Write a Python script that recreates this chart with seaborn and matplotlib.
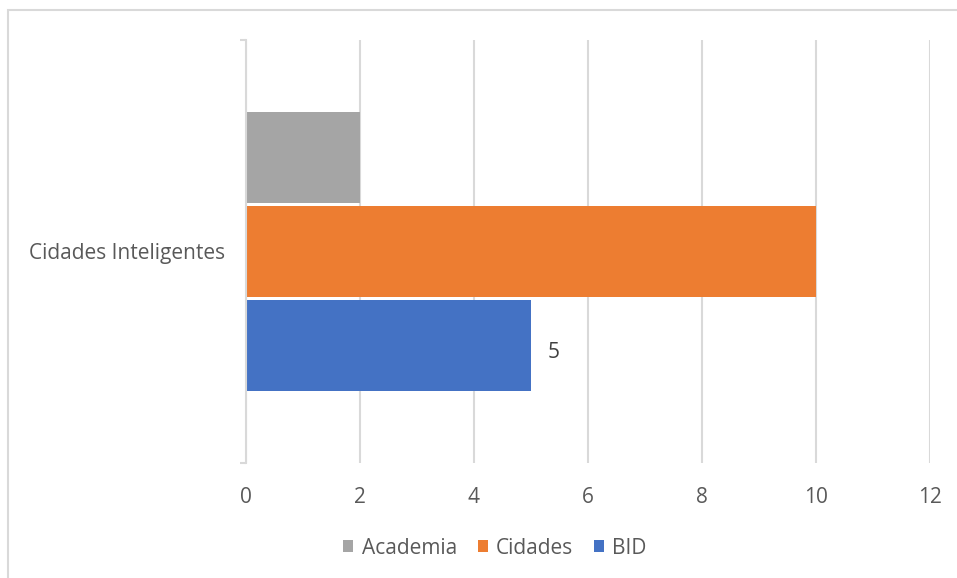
import seaborn as sns
import matplotlib
matplotlib.use("Agg")
import matplotlib.pyplot as plt
import pandas as pd
from matplotlib.patches import Patch, Rectangle

categories = ["Cidades Inteligentes"]
series = ["Academia", "Cidades", "BID"]
values = [2, 10, 5]
colors = ["#A5A5A5", "#ED7D31", "#4472C4"]
xticks = [0, 2, 4, 6, 8, 10, 12]

df = pd.DataFrame({"Categoria": categories * len(series), "Série": series, "Valor": values})

sns.set_theme(style="white")
plt.rcParams['font.family'] = ['Open Sans', 'DejaVu Sans']

FS = 15
fig = plt.figure(figsize=(9.57, 5.78), dpi=100)
ax = fig.add_axes([246 / 957, 1 - 463 / 578, (930 - 246) / 957, 423 / 578])
sns.barplot(data=df, y="Categoria", x="Valor", hue="Série", hue_order=series,
            palette=colors, orient='h', width=0.665, gap=0.035, ax=ax,
            legend=False, saturation=1, linewidth=0, errorbar=None)

ax.set_xlim(0, 12)
ax.set_ylim(0.5, -0.5)
ax.set_xticks(xticks)
ax.set_xlabel("")
ax.set_ylabel("")
ax.xaxis.grid(True, color='#d9d9d9', lw=1.5)
ax.yaxis.grid(False)
ax.set_axisbelow(True)
for s in ["top", "right", "bottom"]:
    ax.spines[s].set_visible(False)
ax.spines["left"].set_color('#d9d9d9')
ax.spines["left"].set_linewidth(1.5)

ax.tick_params(axis='x', length=0, pad=17, labelcolor='#595959', labelsize=FS)
ax.tick_params(axis='y', which='major', length=0, pad=15, labelcolor='#595959', labelsize=FS)
ax.set_yticks([-0.5, 0.5], minor=True)
ax.tick_params(axis='y', which='minor', length=4, width=1.5, color='#d9d9d9', left=True)

labels = ax.bar_label(ax.containers[2], padding=12, color='#404040', fontsize=FS)
for t in labels:
    t.xyann = (12, -5)

handles = [Patch(facecolor=c, edgecolor='none') for c in colors]
fig.legend(handles, series, loc='center', bbox_to_anchor=(495 / 957, 1 - 548 / 578), ncol=3,
           frameon=False, handlelength=0.48, handleheight=0.48, handletextpad=0.4,
           columnspacing=1.0, fontsize=FS, labelcolor='#595959')

fig.add_artist(Rectangle((8 / 957, -0.05), 1.2, (578 - 10) / 578 + 0.05,
                         transform=fig.transFigure, fill=False, ec='#d9d9d9', lw=1.5))

fig.savefig("out.png", dpi=100)
